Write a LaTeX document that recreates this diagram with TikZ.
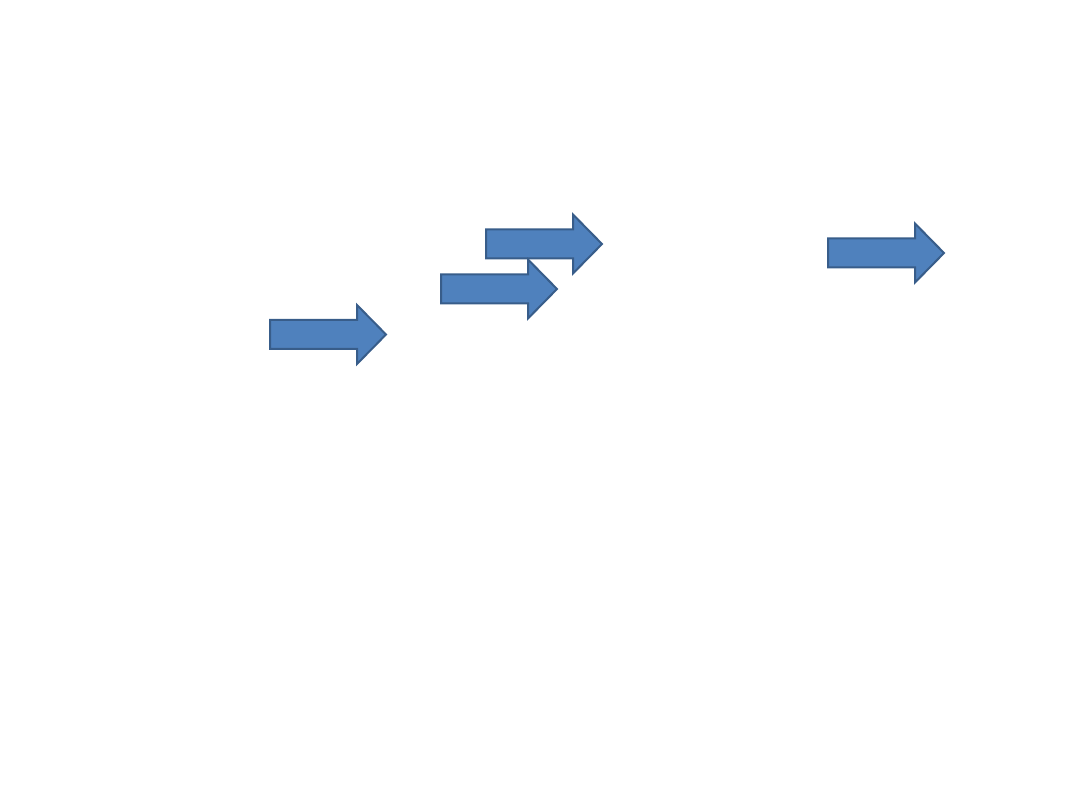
\documentclass[tikz,border=0pt]{standalone}
\definecolor{arrowfill}{HTML}{4F81BD}
\definecolor{arrowline}{HTML}{385D8A}
\begin{document}
\begin{tikzpicture}[x=1pt,y=-1pt]
\def\sh{14.5}
\def\hh{29.5}
\newcommand{\blockarrow}[2]{
  \draw[fill=arrowfill,draw=arrowline,line width=2pt,line join=miter]
    (#1,#2) +(0,-\sh) -- +(87,-\sh) -- +(87,-\hh) -- +(116,0)
    -- +(87,\hh) -- +(87,\sh) -- +(0,\sh) -- cycle;
}
\useasboundingbox (0,0) rectangle (1080,810);

% arrows, left end and middle height
\blockarrow{270}{334.5}
\blockarrow{486}{244}
\blockarrow{441}{289}
\blockarrow{828}{253}
\end{tikzpicture}
\end{document}
